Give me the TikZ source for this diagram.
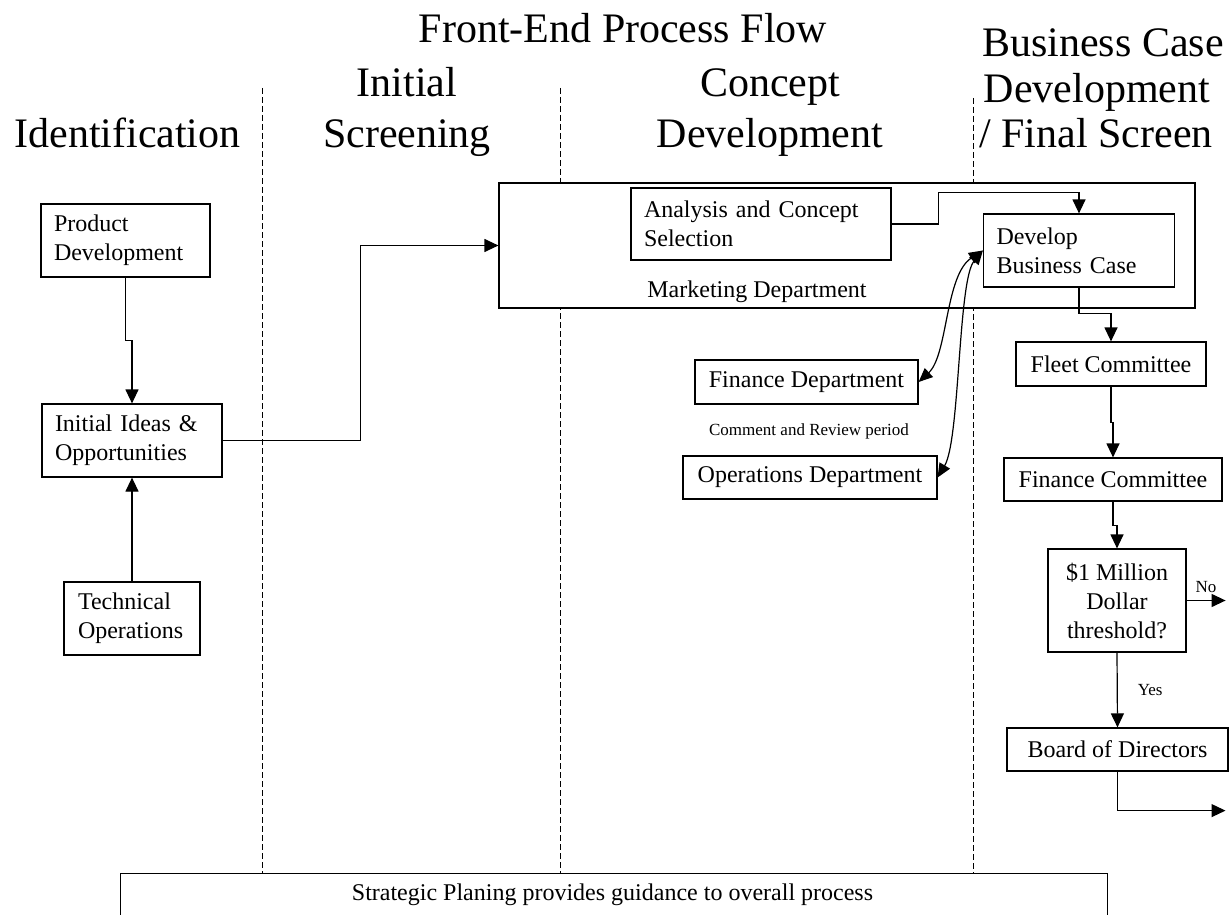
\documentclass[tikz,border=0pt]{standalone}
\usepackage{fontspec}
\setmainfont{Liberation Serif}
\usetikzlibrary{arrows.meta}
\begin{document}
\begin{tikzpicture}[x=1pt,y=-1pt,
  box/.style={draw, line width=1.2pt, fill=white, inner sep=0pt,
    font=\fontsize{24}{29}\selectfont},
  hd/.style={anchor=base, inner sep=0pt, font=\fontsize{42}{50}\selectfont},
  lane/.style={line width=0.9pt, dash pattern=on 6pt off 3pt},
  arr/.style={line width=1.2pt, -{Triangle[length=14pt,width=13pt]}},
  arrtwo/.style={line width=1.2pt, {Triangle[length=14pt,width=12pt]}-{Triangle[length=14pt,width=12pt]}},
  lbl/.style={inner sep=0pt, font=\fontsize{17}{20}\selectfont}
]
\useasboundingbox (0,0) rectangle (1232,915);
\fill[white] (0,0) rectangle (1232,915);
\clip (0,0) rectangle (1232,915);

% headings
\node[hd] (title) at (623,43) {Front-End Process Flow};
\node[hd] (hid) at (127.5,148) {Identification};
\node[hd] (his1) at (407,97) {Initial};
\node[hd] (his2) at (407,148) {Screening};
\node[hd] (hcd1) at (770,97) {Concept};
\node[hd] (hcd2) at (770,148) {Development};
\node[hd] (hbc1) at (1103,57) {Business Case};
\node[hd] (hbc2) at (1097,103) {Development};
\node[hd] (hbc3) at (1096,148) {/ Final Screen};

% lane separators
\draw[lane] (262,88) -- (262,873);
\draw[lane] (560,88) -- (560,873);
\draw[lane] (973,98) -- (973,873);

% identification column
\node[box, minimum width=169pt, minimum height=73pt, text width=143pt, align=left]
  (pd) at (125.5,240.5) {Product\\Development};
\node[box, minimum width=180pt, minimum height=73pt, text width=154pt, align=left]
  (ii) at (132,440.5) {Initial Ideas \&\\Opportunities};
\node[box, minimum width=136pt, minimum height=73pt, text width=108pt, align=left]
  (to) at (132,618.5) {Technical\\Operations};

% marketing department
\node[box, minimum width=696pt, minimum height=125pt] (mk) at (847,245.5) {};
\node[anchor=base, inner sep=0pt, font=\fontsize{24}{29}\selectfont]
  (mktxt) at (757,297) {Marketing Department};
\node[box, minimum width=260pt, minimum height=72pt, text width=234pt, align=left]
  (ac) at (761,224) {Analysis and Concept\\Selection};
\node[box, minimum width=191pt, minimum height=73pt, text width=165pt, align=left]
  (db) at (1079,250.5) {Develop\\Business Case};

% review departments
\node[box, minimum width=223pt, minimum height=44pt] (fd) at (806.5,382) {Finance Department};
\node[inner sep=0pt, font=\fontsize{17}{20}\selectfont] (crp) at (809,431) {Comment and Review period};
\node[box, minimum width=254pt, minimum height=43pt] (od) at (810,477.5) {Operations Department};

% final screen column
\node[box, minimum width=190pt, minimum height=44pt] (fc) at (1111,364) {Fleet Committee};
\node[box, minimum width=218pt, minimum height=43pt] (fin) at (1113,479.5) {Finance Committee};
\node[box, minimum width=138pt, minimum height=103pt, align=center]
  (th) at (1117,600.5) {\$1 Million\\Dollar\\threshold?};
\node[box, minimum width=221pt, minimum height=43pt] (bd) at (1117.5,749.5) {Board of Directors};

% strategic planning
\node[box, anchor=north west, minimum width=987pt, minimum height=87pt] (sp) at (120,873) {};
\node[inner sep=0pt, font=\fontsize{24}{29}\selectfont] (sptxt) at (612.5,895) {Strategic Planing provides guidance to overall process};

% connectors
\draw[arr] (pd.south) -- ++(0,63) -| (ii.north);
\draw[arr] (to.north) -- (ii.south);
\draw[arr] (ii.east) -- ++(138,0) |- (mk.west);
\draw[arr] (ac.east) -- ++(47,0) |- ([yshift=21pt]db.north) -- (db.north);
\draw[arrtwo] (fd.east) .. controls (948,355) and (945,275) .. (db.west);
\draw[arrtwo] (od.east) .. controls (960,440) and (958,280) .. (db.west);
\draw[arr] (db.south) -- ++(0,26) -| (fc.north);
\draw[arr] (fc.south) -- ++(0,36) -| (fin.north);
\draw[arr] (fin.south) -- ++(0,24) -| (th.north);
\draw[arr] (th.south) -- node[lbl, right=20pt] {Yes} (bd.north);
\draw[arr] (th.east) -- ++(39,0) coordinate (noend) node[lbl, pos=0.5, above=7pt] {No};
\draw[arr] (bd.south) -- ++(0,39) -- ++(108,0) coordinate (bdend);
\end{tikzpicture}
\end{document}
